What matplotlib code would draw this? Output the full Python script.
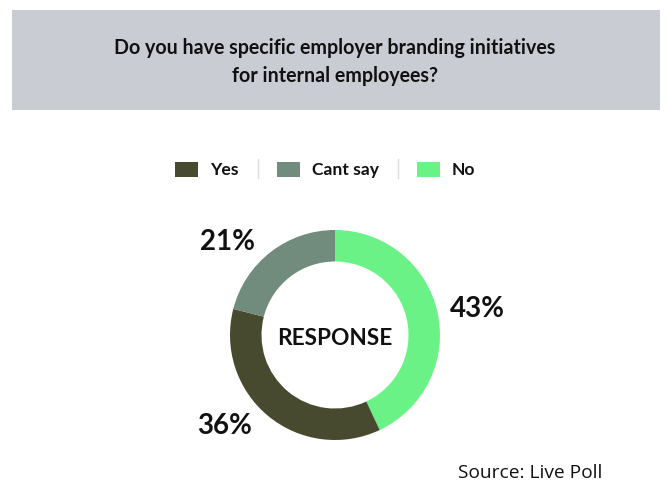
import numpy as np
import matplotlib
matplotlib.use("Agg")
import matplotlib.pyplot as plt
from matplotlib.patches import Rectangle
from matplotlib.lines import Line2D

# ---- data ----
title = "Do you have specific employer branding initiatives\nfor internal employees?"
categories = ["No", "Yes", "Cant say"]          # drawing order (clockwise from top)
values = [43, 36, 21]
colors = ["#6AF287", "#474A2E", "#718C7C"]
legend_order = ["Yes", "Cant say", "No"]
center_text = "RESPONSE"
source = "Source: Live Poll"

W, H = 669, 494
fig = plt.figure(figsize=(W / 100, H / 100), dpi=100)
fig.patch.set_facecolor("white")

def fx(px):
    return px / W

def fy(py):
    return 1 - py / H

# title band
fig.patches.append(Rectangle((fx(12), fy(110)), fx(660) - fx(12), fy(10) - fy(110),
                             transform=fig.transFigure, facecolor="#C9CDD3",
                             edgecolor="none", zorder=0))
fig.text(fx(335), fy(62), title, ha="center", va="center", fontsize=14.1,
         fontfamily="Lato", fontweight="bold", color="#111111", linespacing=1.5)

# donut
cx, cy, R = 335, 335, 105
ax = fig.add_axes([fx(cx - R), fy(cy + R), 2 * R / W, 2 * R / H])
wedges, _ = ax.pie(values, colors=colors, startangle=90, counterclock=False,
                   radius=1.0, wedgeprops=dict(width=0.3, edgecolor="none"))
ax.set_xlim(-1, 1)
ax.set_ylim(-1, 1)
ax.set_aspect("equal")
ax.axis("off")
ax.text(0, -0.03, center_text, ha="center", va="center", fontsize=16.3,
        fontfamily="Lato", fontweight="bold", color="#111111")

for w, v in zip(wedges, values):
    ang = np.deg2rad((w.theta1 + w.theta2) / 2)
    r = 1.12
    x, y = r * np.cos(ang), r * np.sin(ang)
    ha = "left" if x > 0 else "right"
    ax.text(x + (0.0 if x > 0 else -0.08), y, f"{v}%", ha=ha, va="center", fontsize=20,
            fontfamily="Lato", fontweight="bold", color="#111111")

# legend (manual, with separators)
fig.canvas.draw()
renderer = fig.canvas.get_renderer()
cmap = dict(zip(categories, colors))
x = 175
ly = 170
for i, name in enumerate(legend_order):
    if i > 0:
        fig.add_artist(Line2D([fx(x), fx(x)], [fy(159), fy(178)], transform=fig.transFigure,
                              color="#DDDDDD", lw=1))
        x += 19
    fig.patches.append(Rectangle((fx(x), fy(177)), fx(23), fy(162) - fy(177),
                                 transform=fig.transFigure, facecolor=cmap[name],
                                 edgecolor="none"))
    x += 35
    t = fig.text(fx(x), fy(ly), name, ha="left", va="center", fontsize=12.6,
                 fontfamily="Lato", fontweight="bold", color="#111111")
    bb = t.get_window_extent(renderer)
    x += bb.width + 19

fig.text(fx(602), fy(473), source, ha="right", va="center", fontsize=13.8,
         fontfamily="Open Sans", color="#111111")

fig.savefig("out.png", dpi=100, facecolor="white")
